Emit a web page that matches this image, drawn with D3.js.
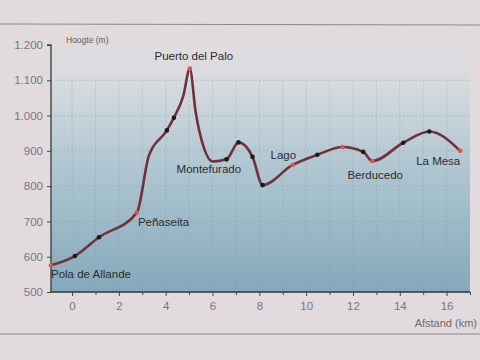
<!DOCTYPE html>
<html>
<head>
<meta charset="utf-8">
<script src="https://cdn.jsdelivr.net/npm/d3@7"></script>
<style>
  html, body { margin: 0; padding: 0; background: #e1dbde; }
  svg { display: block; }
</style>
</head>
<body>
<svg id="chart" width="480" height="360"></svg>
<script>
// ---- data ----
const distanceKm = [-0.9, 0.12, 1.15, 2.77, 3.28, 4.05, 4.35, 4.75, 5.03, 5.28, 5.63, 6.0, 6.6, 7.11, 7.71, 8.14, 9.42, 10.48, 11.55, 12.44, 12.83, 14.15, 15.26, 16.58];
const elevationM = [576, 602, 655, 725, 886, 958, 994, 1055, 1133, 1010, 909, 870, 876, 924, 883, 803, 860, 889, 911, 897, 871, 923, 955, 900];
const markerKind = ["town", "dot", "dot", "town", "", "dot", "dot", "", "town", "", "", "", "dot", "dot", "dot", "dot", "town", "dot", "town", "dot", "town", "dot", "dot", "town"];
const placeNames = ["Pola de Allande", "", "", "Peñaseita", "", "", "", "", "Puerto del Palo", "", "", "", "Montefurado", "", "", "", "Lago", "", "", "", "Berducedo", "", "", "La Mesa"];
const yTicks = [500, 600, 700, 800, 900, 1000, 1100, 1200];
const xMajorTicks = [0, 2, 4, 6, 8, 10, 12, 14, 16];
const xMinorTicks = [-1, 1, 3, 5, 7, 9, 11, 13, 15, 17];
const yTitle = "Hoogte (m)";
const xTitle = "Afstand (km)";

(function () {
// ---- layout ----
const svg = d3.select("#chart");
const pLeft = 51, pRight = 470, pTop = 45, pBottom = 292;
const x = d3.scaleLinear().domain([-0.9, 17]).range([pLeft, pRight]);
const y = d3.scaleLinear().domain([500, 1200]).range([pBottom, pTop]);
const fmt = d3.formatLocale({decimal: ",", thousands: ".", grouping: [3], currency: ["€", ""]}).format(",d");
const font = "'Liberation Sans', Arial, Helvetica, sans-serif";

// page rules
svg.append("line").attr("x1", 0).attr("x2", 480).attr("y1", 24).attr("y2", 25)
  .attr("stroke", "#8d878a").attr("stroke-width", 1);
svg.append("line").attr("x1", 0).attr("x2", 480).attr("y1", 334).attr("y2", 334)
  .attr("stroke", "#8d878a").attr("stroke-width", 1);

// gradient plot background
const defs = svg.append("defs");
const grad = defs.append("linearGradient").attr("id", "bg").attr("x1", 0).attr("y1", 0).attr("x2", 0).attr("y2", 1);
grad.append("stop").attr("offset", "0%").attr("stop-color", "#e1dcdf");
grad.append("stop").attr("offset", "15%").attr("stop-color", "#d6dbdf");
grad.append("stop").attr("offset", "50%").attr("stop-color", "#afc6d1");
grad.append("stop").attr("offset", "100%").attr("stop-color", "#84a9bb");
svg.append("rect").attr("x", pLeft).attr("y", pTop).attr("width", pRight - pLeft).attr("height", pBottom - pTop)
  .attr("fill", "url(#bg)");

// grid
const grid = svg.append("g").attr("stroke", "#8299a6").attr("stroke-width", 0.7)
  .attr("stroke-dasharray", "2,2").attr("opacity", 0.55);
grid.selectAll("line.h").data(yTicks.slice(1, -1)).join("line").attr("class", "h")
  .attr("x1", pLeft).attr("x2", pRight).attr("y1", d => y(d)).attr("y2", d => y(d));
grid.selectAll("line.v").data(d3.range(0, 17)).join("line").attr("class", "v")
  .attr("x1", d => x(d)).attr("x2", d => x(d)).attr("y1", y(1100)).attr("y2", pBottom);

// y axis
const yAxis = svg.append("g").attr("transform", `translate(${pLeft},0)`)
  .call(d3.axisLeft(y).tickValues(yTicks).tickFormat(fmt).tickSize(4).tickPadding(4));
yAxis.select(".domain").attr("stroke", "#444").attr("stroke-width", 1.4).attr("d", `M-4,${y(1200)}H0V${pBottom}`);
yAxis.selectAll(".tick line").attr("stroke", "#444");
yAxis.selectAll("text").attr("fill", "#7a7679").attr("font-family", font).attr("font-size", 11.5);

// x axis
const xAxis = svg.append("g").attr("transform", `translate(0,${pBottom})`)
  .call(d3.axisBottom(x).tickValues(xMajorTicks).tickFormat(d3.format("d")).tickSize(4).tickPadding(6));
xAxis.select(".domain").attr("stroke", "#333").attr("stroke-width", 1.5).attr("d", `M${pLeft},0H${pRight}`);
xAxis.selectAll(".tick line").attr("stroke", "#444");
xAxis.selectAll("text").attr("fill", "#7a7679").attr("font-family", font).attr("font-size", 11.5);
svg.append("g").attr("transform", `translate(0,${pBottom})`)
  .call(d3.axisBottom(x).tickValues(xMinorTicks.filter(d => x(d) >= pLeft && x(d) <= pRight)).tickFormat("").tickSize(3))
  .call(g => g.select(".domain").remove())
  .selectAll(".tick line").attr("stroke", "#444");

// axis titles
svg.append("text").attr("x", pLeft + 15).attr("y", 43).text(yTitle)
  .attr("font-family", font).attr("font-size", 8.5).attr("fill", "#5e5a5d");
svg.append("text").attr("x", 477).attr("y", 327).attr("text-anchor", "end").text(xTitle)
  .attr("font-family", font).attr("font-size", 11).attr("fill", "#6e6a6d");

// profile
const pts = distanceKm.map((d, i) => ({km: d, m: elevationM[i], kind: markerKind[i], name: placeNames[i]}));
const line = d3.line().x(d => x(d.km)).y(d => y(d.m)).curve(d3.curveMonotoneX);
svg.append("path").datum(pts).attr("d", line)
  .attr("fill", "none").attr("stroke", "#74303a").attr("stroke-width", 2.6)
  .attr("stroke-linejoin", "round").attr("stroke-linecap", "round");

svg.selectAll("circle.m").data(pts.filter(d => d.kind)).join("circle").attr("class", "m")
  .attr("cx", d => x(d.km)).attr("cy", d => y(d.m)).attr("r", 2.3)
  .attr("fill", d => d.kind === "town" ? "#e0524f" : "#1e1a1b");

// place labels
const labelOffset = {
  "Pola de Allande": [0, 13, "start"],
  "Peñaseita": [1, 13, "start"],
  "Puerto del Palo": [4, -9, "middle"],
  "Montefurado": [-50, 14, "start"],
  "Lago": [-22, -6, "start"],
  "Berducedo": [-25, 18, "start"],
  "La Mesa": [-44, 14, "start"]
};
svg.selectAll("text.place").data(pts.filter(d => d.name)).join("text").attr("class", "place")
  .attr("x", d => x(d.km) + labelOffset[d.name][0])
  .attr("y", d => y(d.m) + labelOffset[d.name][1])
  .attr("text-anchor", d => labelOffset[d.name][2])
  .attr("font-family", font).attr("font-size", 11.5).attr("fill", "#2f2b2d")
  .text(d => d.name);
})();
</script>
</body>
</html>
